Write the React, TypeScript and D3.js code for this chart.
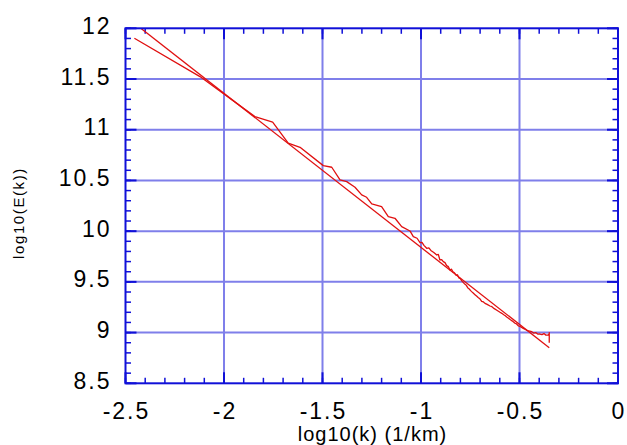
import React from "react";
import * as d3 from "d3";

const W = 627;
const H = 445;

const xTicks = [-2.5, -2, -1.5, -1, -0.5, 0];
const yTicks = [8.5, 9, 9.5, 10, 10.5, 11, 11.5, 12];
const xTickLabels = ["-2.5", "-2", "-1.5", "-1", "-0.5", "0"];
const yTickLabels = ["8.5", "9", "9.5", "10", "10.5", "11", "11.5", "12"];

const spectrumX = [
  -2.455, -2.122, -1.843, -1.753, -1.674, -1.614, -1.496, -1.453, -1.411, -1.377,
  -1.335, -1.301, -1.276, -1.25, -1.2, -1.166, -1.132, -1.098, -1.056, -1.039,
  -1.02, -1.005, -0.995, -0.985, -0.971, -0.96, -0.95, -0.935, -0.92, -0.912,
  -0.904, -0.895, -0.887, -0.878, -0.87, -0.861, -0.853, -0.845, -0.838, -0.83,
  -0.822, -0.815, -0.808, -0.8, -0.793, -0.786, -0.778, -0.77, -0.762, -0.755,
  -0.748, -0.743, -0.735, -0.726, -0.718, -0.71, -0.7, -0.692, -0.683, -0.675,
  -0.664, -0.65, -0.64, -0.628, -0.615, -0.605, -0.599, -0.59, -0.58, -0.572,
  -0.565, -0.556, -0.546, -0.536, -0.523, -0.515, -0.505, -0.495, -0.481, -0.47,
  -0.46, -0.448, -0.438, -0.428, -0.418, -0.408, -0.396, -0.386, -0.376, -0.366,
  -0.354, -0.35, -0.349, -0.349,
];
const spectrumY = [
  11.902, 11.524, 11.129, 11.074, 10.867, 10.827, 10.646, 10.63, 10.505, 10.488,
  10.433, 10.357, 10.334, 10.268, 10.242, 10.143, 10.127, 10.044, 10.002, 9.946,
  9.93, 9.887, 9.89, 9.86, 9.831, 9.835, 9.81, 9.79, 9.765, 9.77,
  9.716, 9.72, 9.7, 9.69, 9.66, 9.65, 9.617, 9.625, 9.6, 9.59,
  9.565, 9.57, 9.54, 9.532, 9.51, 9.495, 9.478, 9.466, 9.44, 9.43,
  9.414, 9.404, 9.39, 9.374, 9.36, 9.346, 9.33, 9.308, 9.302, 9.288,
  9.278, 9.262, 9.255, 9.236, 9.22, 9.208, 9.2, 9.19, 9.176, 9.166,
  9.154, 9.142, 9.126, 9.113, 9.092, 9.085, 9.065, 9.058, 9.042, 9.03,
  9.02, 9.015, 9.009, 8.995, 9.0, 8.985, 8.986, 8.98, 8.99, 8.975,
  8.976, 8.985, 9.0, 8.9,
];

const fitX = [-2.455, -0.349];
const fitY = [12.05, 8.851];

export default function App() {
  const x = d3.scaleLinear().domain([-2.5, 0]).range([125.5, 618]);
  const y = d3.scaleLinear().domain([8.5, 12]).range([383.3, 28.3]);
  const [x0, x1] = x.range();
  const [y0, y1] = y.range();

  const line = d3
    .line<[number, number]>()
    .x((d) => x(d[0]))
    .y((d) => y(d[1]));

  const spec: [number, number][] = spectrumX.map((v, i) => [v, spectrumY[i]]);
  const fit: [number, number][] = fitX.map((v, i) => [v, fitY[i]]);

  const xMinor = d3.range(-2.5, 0.0001, 0.1).map((v) => +v.toFixed(2));
  const yMinor = d3.range(8.5, 12.0001, 0.1).map((v) => +v.toFixed(2));

  const gridColor = "#7f7fea";
  const axisColor = "#1010d8";
  const font = "'Liberation Sans', Arial, Helvetica, sans-serif";
  const ls = 2;
  const minorLen = 5.5;
  const majorLen = 11;

  return (
    <svg
      width={W}
      height={H}
      style={{ position: "absolute", left: 0, top: 0, background: "#fff" }}
    >
      <defs>
        <clipPath id="plotClip">
          <rect x={x0} y={y1} width={x1 - x0} height={y0 - y1} />
        </clipPath>
      </defs>
      <rect x={0} y={0} width={W} height={H} fill="#fff" />

      {/* grid */}
      {xTicks.slice(1, -1).map((t) => (
        <line key={"gx" + t} x1={x(t)} x2={x(t)} y1={y1} y2={y0} stroke={gridColor} strokeWidth={2} />
      ))}
      {yTicks.slice(1, -1).map((t) => (
        <line key={"gy" + t} x1={x0} x2={x1} y1={y(t)} y2={y(t)} stroke={gridColor} strokeWidth={2} />
      ))}

      {/* minor ticks */}
      {xMinor.map((t) => (
        <g key={"mx" + t}>
          <line x1={x(t)} x2={x(t)} y1={y0} y2={y0 - minorLen} stroke={axisColor} strokeWidth={1.5} />
          <line x1={x(t)} x2={x(t)} y1={y1} y2={y1 + minorLen} stroke={axisColor} strokeWidth={1.5} />
        </g>
      ))}
      {yMinor.map((t) => (
        <g key={"my" + t}>
          <line x1={x0} x2={x0 + minorLen} y1={y(t)} y2={y(t)} stroke={axisColor} strokeWidth={1.5} />
          <line x1={x1} x2={x1 - minorLen} y1={y(t)} y2={y(t)} stroke={axisColor} strokeWidth={1.5} />
        </g>
      ))}
      {/* major ticks */}
      {xTicks.map((t) => (
        <g key={"Mx" + t}>
          <line x1={x(t)} x2={x(t)} y1={y0} y2={y0 - majorLen} stroke={axisColor} strokeWidth={2} />
          <line x1={x(t)} x2={x(t)} y1={y1} y2={y1 + majorLen} stroke={axisColor} strokeWidth={2} />
        </g>
      ))}
      {yTicks.map((t) => (
        <g key={"My" + t}>
          <line x1={x0} x2={x0 + majorLen} y1={y(t)} y2={y(t)} stroke={axisColor} strokeWidth={2} />
          <line x1={x1} x2={x1 - majorLen} y1={y(t)} y2={y(t)} stroke={axisColor} strokeWidth={2} />
        </g>
      ))}

      {/* data */}
      <g clipPath="url(#plotClip)">
        <path d={line(fit) || ""} fill="none" stroke="#e01010" strokeWidth={1.3} />
        <path d={line(spec) || ""} fill="none" stroke="#e01010" strokeWidth={1.3} strokeLinejoin="round" />
      </g>

      {/* frame */}
      <rect x={x0} y={y1} width={x1 - x0} height={y0 - y1} fill="none" stroke={axisColor} strokeWidth={2} />

      {/* tick labels */}
      {xTicks.map((t, i) => (
        <text
          key={"lx" + t}
          x={x(t) + ls / 2}
          y={419}
          textAnchor="middle"
          fontFamily={font}
          fontSize={23}
          letterSpacing={ls}
          fill="#000"
        >
          {xTickLabels[i]}
        </text>
      ))}
      {yTicks.map((t, i) => (
        <text
          key={"ly" + t}
          x={109.5 + ls}
          y={y(t) + 5.5}
          textAnchor="end"
          fontFamily={font}
          fontSize={23}
          letterSpacing={ls}
          fill="#000"
        >
          {yTickLabels[i]}
        </text>
      ))}

      {/* axis titles */}
      <text
        x={372.5}
        y={440.5}
        textAnchor="middle"
        fontFamily={font}
        fontSize={20}
        letterSpacing={1}
        fill="#000"
      >
        log10(k) (1/km)
      </text>
      <text
        transform={`translate(23.5, ${213}) rotate(-90)`}
        textAnchor="middle"
        fontFamily={font}
        fontSize={15}
        letterSpacing={1.6}
        fill="#000"
      >
        log10(E(k))
      </text>
    </svg>
  );
}
